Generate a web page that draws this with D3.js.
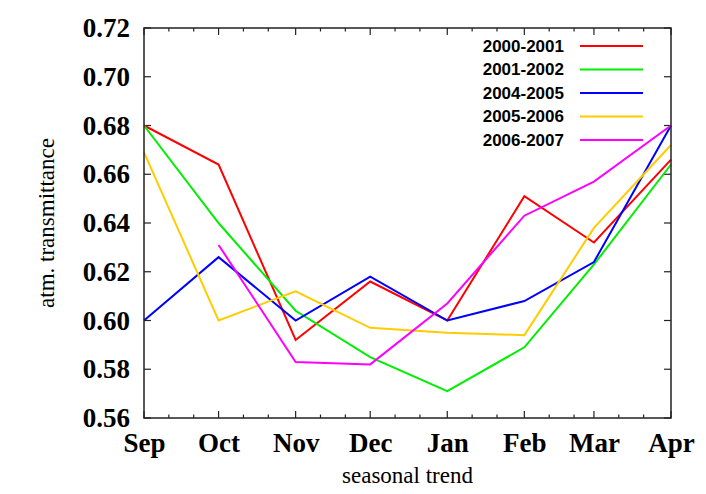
<!DOCTYPE html>
<html>
<head>
<meta charset="utf-8">
<script src="https://cdn.jsdelivr.net/npm/d3@7"></script>
<style>
  body { margin: 0; background: #fff; }
</style>
</head>
<body>
<svg id="chart" width="706" height="494"></svg>
<script>
// months, with day offset from 1 Sep
const months = ['Sep', 'Oct', 'Nov', 'Dec', 'Jan', 'Feb', 'Mar', 'Apr'];
const monthDays = [0, 30, 61, 91, 122, 153, 181, 212];
const yTicks = [0.56, 0.58, 0.60, 0.62, 0.64, 0.66, 0.68, 0.70, 0.72];

const seriesNames = ['2000-2001', '2001-2002', '2004-2005', '2005-2006', '2006-2007'];
const seriesColors = ['#ff0000', '#00ee00', '#0000ff', '#ffcc00', '#ff00ff'];

const s2000 = [0.680, 0.664, 0.592, 0.616, 0.600, 0.651, 0.632, 0.666];
const s2001 = [0.680, 0.640, 0.604, 0.585, 0.571, 0.589, 0.623, 0.664];
const s2004 = [0.600, 0.626, 0.600, 0.618, 0.600, 0.608, 0.624, 0.680];
const s2005 = [0.669, 0.600, 0.612, 0.597, 0.595, 0.594, 0.638, 0.672];
const s2006 = [null, 0.631, 0.583, 0.582, 0.607, 0.643, 0.657, 0.680];

const seriesValues = [s2000, s2001, s2004, s2005, s2006];

const margin = { top: 28, right: 35, bottom: 76, left: 144 };
const width = 706 - margin.left - margin.right;
const height = 494 - margin.top - margin.bottom;

const svg = d3.select('#chart');
const g = svg.append('g')
  .attr('transform', `translate(${margin.left},${margin.top})`);

const x = d3.scaleLinear().domain([0, 212]).range([0, width]);
const y = d3.scaleLinear().domain([0.56, 0.72]).range([height, 0]);

// minor ticks every 10 days after each month start
const minorDays = [];
monthDays.slice(0, -1).forEach(d => { minorDays.push(d + 10, d + 20); });

const tickCol = '#222';

// bottom axis
const xAxis = g.append('g').attr('transform', `translate(0,${height})`)
  .call(d3.axisBottom(x).tickValues(monthDays).tickSize(0).tickPadding(15)
    .tickFormat((d, i) => months[i]));
xAxis.select('.domain').remove();
xAxis.selectAll('text')
  .attr('font-family', '"Liberation Serif", "Times New Roman", serif')
  .attr('font-weight', 'bold').attr('font-size', 27).attr('fill', '#000');

// left axis
const yAxis = g.append('g')
  .call(d3.axisLeft(y).tickValues(yTicks).tickSize(0).tickPadding(14)
    .tickFormat(d3.format('.2f')));
yAxis.select('.domain').remove();
yAxis.selectAll('text')
  .attr('font-family', '"Liberation Serif", "Times New Roman", serif')
  .attr('font-weight', 'bold').attr('font-size', 27).attr('fill', '#000');

// tick marks on all four sides (inward)
const ticks = g.append('g').attr('stroke', tickCol).attr('stroke-width', 1.2);
monthDays.forEach(d => {
  ticks.append('line').attr('x1', x(d)).attr('x2', x(d)).attr('y1', height).attr('y2', height - 7);
  ticks.append('line').attr('x1', x(d)).attr('x2', x(d)).attr('y1', 0).attr('y2', 7);
});
minorDays.forEach(d => {
  ticks.append('line').attr('x1', x(d)).attr('x2', x(d)).attr('y1', height).attr('y2', height - 3.5);
  ticks.append('line').attr('x1', x(d)).attr('x2', x(d)).attr('y1', 0).attr('y2', 3.5);
});
yTicks.forEach(v => {
  ticks.append('line').attr('x1', 0).attr('x2', 7).attr('y1', y(v)).attr('y2', y(v));
  ticks.append('line').attr('x1', width).attr('x2', width - 7).attr('y1', y(v)).attr('y2', y(v));
});

// lines
const line = d3.line()
  .defined(d => d.v !== null)
  .x(d => x(d.day))
  .y(d => y(d.v));

seriesValues.forEach((vals, i) => {
  const pts = vals.map((v, j) => ({ day: monthDays[j], v: v }));
  g.append('path')
    .datum(pts)
    .attr('fill', 'none')
    .attr('stroke', seriesColors[i])
    .attr('stroke-width', 2)
    .attr('stroke-linejoin', 'miter')
    .attr('d', line);
});

// frame
g.append('rect')
  .attr('width', width).attr('height', height)
  .attr('fill', 'none').attr('stroke', tickCol).attr('stroke-width', 1.5);

// legend
const legend = g.append('g').attr('transform', `translate(${564 - margin.left},${46 - margin.top})`);
seriesNames.forEach((name, i) => {
  const row = legend.append('g').attr('transform', `translate(0,${i * 23.5})`);
  row.append('text')
    .attr('x', 0).attr('dy', '0.35em')
    .attr('text-anchor', 'end')
    .attr('font-family', '"Liberation Sans", Arial, sans-serif')
    .attr('font-weight', 'bold').attr('font-size', 17)
    .text(name);
  row.append('line')
    .attr('x1', 16).attr('x2', 79)
    .attr('stroke', seriesColors[i]).attr('stroke-width', 2);
});

// axis titles
svg.append('text')
  .attr('x', margin.left + width / 2).attr('y', 483)
  .attr('text-anchor', 'middle')
  .attr('font-family', '"Liberation Serif", "Times New Roman", serif')
  .attr('font-size', 23)
  .text('seasonal trend');

svg.append('text')
  .attr('transform', `translate(54,${margin.top + height / 2}) rotate(-90)`)
  .attr('text-anchor', 'middle')
  .attr('font-family', '"Liberation Serif", "Times New Roman", serif')
  .attr('font-size', 23)
  .text('atm. transmittance');
</script>
</body>
</html>
